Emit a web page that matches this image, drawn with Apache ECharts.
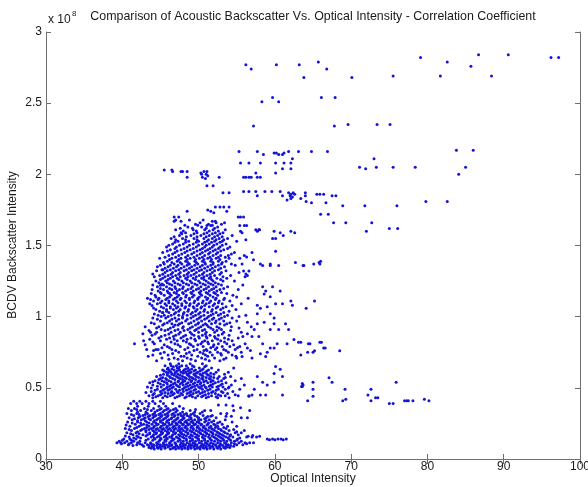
<!DOCTYPE html>
<html>
<head>
<meta charset="utf-8">
<script src="https://cdn.jsdelivr.net/npm/echarts@6/dist/echarts.min.js"></script>
<style>
  html, body { margin: 0; padding: 0; background: #fff; }
  #chart { width: 588px; height: 487px; }
</style>
</head>
<body>
<div id="chart"></div>
<script>
// Optical intensity (x) vs. BCDV backscatter intensity (y, in units of 1e8)

// isolated readings in the upper / right part of the plot: [optical, backscatter]
const upperScatter = [
  [56.2,2.77],[56.9,2.74],[60.2,2.77],[63.2,2.77],[65.7,2.79],[66.8,2.74],[63.8,2.68],
  [58.3,2.51],[59.7,2.54],[60.5,2.51],[66.1,2.54],[67.9,2.54],[57.2,2.34],[67.8,2.34],[69.6,2.35],
  [79.1,2.82],[82.6,2.79],[85.7,2.76],[86.7,2.84],[90.6,2.84],[96.2,2.82],[97.2,2.82],
  [70.1,2.68],[75.5,2.69],[81.7,2.69],[88.4,2.69],[73.4,2.35],[75.1,2.35],
  [83.8,2.17],[86.0,2.17],[73.0,2.11],[71.1,2.05],[71.9,2.04],[73.3,2.05],[75.5,2.05],[78.4,2.05],
  [85.0,2.05],[84.1,2.00],[79.8,1.81],[82.6,1.81],[71.8,1.78],[76.0,1.78],[72.7,1.66],[72.0,1.60],
  [75.0,1.62],[76.1,1.62],
  [55.3,2.16],[57.7,2.16],[58.5,2.14],[59.9,2.15],[60.2,2.15],[60.5,2.14],[61.0,2.14],[61.2,2.15],
  [61.8,2.16],[63.1,2.16],[64.8,2.16],[66.9,2.16],[62.3,2.11],[55.5,2.08],[56.6,2.08],[58.1,2.08],
  [60.1,2.08],[61.2,2.08],[62.1,2.08],[61.0,2.04],[62.1,2.04],[60.1,2.01],
  [45.5,2.03],[46.5,2.03],[46.6,2.02],[47.7,2.02],[47.9,2.02],[48.5,2.02],[48.5,1.98],
  [50.3,2.01],[50.7,2.02],[51.0,2.00],[50.5,1.98],[51.2,1.99],[50.9,1.97],[50.4,2.00],[51.1,2.02],
  [52.7,1.98],[51.1,1.92],[51.9,1.92],[55.9,1.98],[56.2,1.98],[56.6,1.98],[56.9,1.98],[57.7,1.98],
  [58.1,1.98],[57.5,2.01],
  [53.2,1.87],[54.0,1.87],[55.9,1.88],[56.6,1.88],[57.5,1.88],[57.7,1.85],[58.7,1.88],[59.6,1.88],
  [60.7,1.88],[61.0,1.85],[61.8,1.87],[62.1,1.86],[62.4,1.87],[62.6,1.86],[62.0,1.85],[62.3,1.84],
  [61.6,1.82],[62.1,1.83],[63.4,1.83],[64.0,1.85],[64.1,1.81],[64.8,1.80],[64.0,1.87],[65.5,1.86],
  [65.9,1.86],[66.4,1.86],[67.5,1.85],[68.0,1.85],[66.7,1.80],[68.9,1.78],[66.0,1.72],[67.0,1.72],
  [67.7,1.66],[69.3,1.66],
  [48.5,1.74],[46.8,1.70],[47.4,1.70],[46.8,1.67],[47.7,1.67],[47.0,1.68],[47.7,1.59],
  [51.2,1.75],[51.6,1.74],[52.2,1.77],[52.8,1.77],[53.3,1.77],[54.0,1.77],[53.7,1.74],[52.0,1.73],
  [55.2,1.70],[55.9,1.70],[51.8,1.67],[52.2,1.67],[51.1,1.64],[51.6,1.64],[53.4,1.66],[55.4,1.64],
  [56.3,1.64],[57.7,1.60],[58.0,1.61],[59.9,1.60],[60.7,1.59],[62.1,1.60],[62.6,1.59]
];

// readings to the right of the main column, 0.7e8 .. 1.6e8
const sideScatter = [
  [55.5,1.70],[56.0,1.64],[55.5,1.60],[55.7,1.59],[56.2,1.54],[57.5,1.61],[57.9,1.61],[61.1,1.57],
  [59.7,1.55],[60.1,1.55],[60.1,1.46],[56.0,1.43],[56.3,1.42],[55.7,1.37],[57.0,1.45],[57.2,1.40],
  [58.4,1.36],[59.4,1.36],[60.5,1.36],[62.7,1.38],[63.8,1.36],[65.1,1.37],[65.8,1.38],[65.9,1.37],
  [58.1,1.37],[59.4,1.37],[63.7,1.36],[66.0,1.39],
  [55.9,1.32],[56.2,1.30],[56.6,1.32],[56.1,1.28],[56.4,1.29],
  [58.4,1.21],[59.7,1.21],[60.7,1.18],[58.6,1.16],[58.8,1.18],[59.4,1.14],[62.1,1.11],[65.2,1.11],
  [64.1,1.06],[62.3,1.08],[61.0,1.09],[60.1,1.09],[57.7,1.08],[58.1,1.06],[59.0,1.07],[59.4,1.02],
  [59.9,0.99],[59.9,0.95],[58.6,0.96],[57.7,1.02],[57.7,0.95],[56.4,0.96],[57.3,0.91],[59.4,0.91],
  [60.5,0.91],[61.4,0.95],[61.8,0.91],[62.5,0.84],[63.1,0.82],[64.4,0.81],[66.4,0.78],[61.6,0.81],
  [60.3,0.81],[58.4,0.81],[59.4,0.78],[57.9,0.86],[57.0,0.86],[56.4,0.88],
  [63.4,0.82],[64.6,0.81],[65.9,0.82],[66.1,0.82],[66.6,0.78],[68.5,0.76],[63.4,0.73],[64.3,0.75],
  [65.0,0.75],[65.2,0.76],[59.9,0.78],[58.1,0.74],[59.0,0.75],[56.4,0.78],[55.7,0.72],[57.0,0.71],
  [58.8,0.72],[44.0,1.30],[45.3,1.33],[42.7,0.88],[43.7,0.89],[44.4,0.77],[45.3,1.03],[45.0,1.22]
];

// readings to the right of the lower cluster, below 0.7e8
const lowScatter = [
  [67.1,0.57],[67.5,0.54],[65.0,0.54],[63.7,0.52],[63.5,0.51],[65.0,0.49],[65.0,0.44],[64.3,0.41],
  [69.2,0.49],[68.9,0.41],[69.3,0.42],[72.6,0.49],[72.2,0.45],[72.6,0.41],[73.2,0.43],[73.5,0.43],
  [75.9,0.54],[75.0,0.39],[75.5,0.39],[77.0,0.41],[77.3,0.41],[77.5,0.41],[78.1,0.41],[79.6,0.42],
  [80.2,0.41],[59.9,0.54],[61.0,0.58],[63.6,0.53],[63.6,0.51],[59.0,0.52],[58.4,0.54],[57.7,0.58],
  [59.9,0.60],[60.7,0.63],[60.1,0.65],[61.0,0.45],[58.8,0.45],[58.1,0.45],[57.0,0.45],[56.6,0.44],
  [56.5,0.16],[57.1,0.165],[58.0,0.16],[59.0,0.14],[59.3,0.135],[59.7,0.14],[60.0,0.135],[60.4,0.14],
  [60.8,0.14],[61.1,0.135],[61.5,0.14],
  [52.6,0.38],[53.6,0.38],[54.5,0.375],[55.5,0.36],[51.6,0.30],[53.6,0.30],[54.3,0.30],[56.7,0.34]
];

// main column, grouped by backscatter level: [backscatter, [optical readings...]]
const columnRows = [
  [0.69,[44.5,47.9,49.6,51.4,52.8]],
  [0.71,[45.2,46.8,48.5,50.4,52.1,53.6,55.0]],
  [0.73,[44.0,46.0,49.1,50.9,51.8,53.0,54.4]],
  [0.75,[45.5,47.4,48.8,50.2,51.5,52.5,53.9,55.6]],
  [0.77,[43.2,44.7,46.5,48.2,49.8,51.0,52.2,53.3,54.8]],
  [0.79,[45.9,47.6,49.3,50.6,51.9,53.1,54.1,55.4]],
  [0.81,[41.6,44.2,46.9,48.8,50.3,51.3,52.6,53.7,56.1]],
  [0.83,[42.8,45.0,47.2,48.0,49.6,50.8,51.8,52.9,54.4]],
  [0.85,[44.8,46.2,47.7,49.0,50.1,51.1,52.2,53.4,55.2]],
  [0.87,[43.9,45.6,47.0,48.3,49.4,50.5,51.5,52.6,54.0]],
  [0.89,[44.5,46.4,47.6,48.9,50.0,51.0,52.1,53.3,55.6]],
  [0.91,[45.1,46.0,47.3,48.6,49.7,50.8,51.9,53.0]],
  [0.93,[43.0,44.8,46.7,48.0,49.2,50.3,51.3,52.4,54.3,56.9]],
  [0.95,[44.2,45.5,46.5,47.5,48.7,49.9,50.9,51.7,52.8,53.7]],
  [0.97,[45.0,46.2,47.1,48.3,49.4,50.4,51.4,52.3,53.3,55.0]],
  [0.99,[44.0,45.7,46.9,47.9,49.0,50.1,51.1,52.0,53.0,54.4]],
  [1.01,[44.7,45.5,46.4,47.4,48.5,49.6,50.7,51.6,52.6,53.8,56.2]],
  [1.03,[45.3,46.1,47.0,48.1,49.2,50.2,51.2,52.3,53.3]],
  [1.05,[44.4,45.8,46.7,47.6,48.7,49.8,50.8,51.8,52.9,54.9]],
  [1.07,[45.1,46.3,47.3,48.3,49.3,50.4,51.4,52.5,53.6]],
  [1.09,[43.6,44.6,45.6,46.6,47.8,48.9,50.0,51.0,52.1,53.1,55.6]],
  [1.11,[44.1,45.2,46.1,47.1,48.2,49.5,50.6,51.6,52.7,54.1]],
  [1.13,[43.3,44.8,45.9,46.9,47.7,48.8,49.9,51.2,52.3,53.4,56.5]],
  [1.15,[44.3,45.5,46.4,47.4,48.4,49.4,50.4,51.5,52.5,54.5]],
  [1.17,[45.0,46.0,46.8,47.9,49.0,50.1,51.0,52.0,53.0]],
  [1.19,[43.9,45.4,46.5,47.5,48.6,49.7,50.7,51.7,52.8,55.2]],
  [1.21,[44.6,45.8,46.9,48.0,49.2,50.3,51.3,52.3,53.8]],
  [1.23,[45.2,46.2,47.3,48.4,49.5,50.6,51.6,52.6]],
  [1.25,[44.4,45.7,46.7,47.8,48.9,50.0,51.0,51.9,53.2,54.7]],
  [1.27,[45.3,46.3,47.2,48.3,49.3,50.4,51.4,52.4,53.7]],
  [1.29,[44.9,46.0,47.0,48.1,49.0,50.1,51.1,52.1,54.2]],
  [1.31,[45.6,46.6,47.6,48.7,49.7,50.7,51.8,53.0,55.3]],
  [1.33,[45.2,46.3,47.4,48.4,49.4,50.4,51.5,52.6]],
  [1.35,[44.6,46.0,47.1,48.1,49.1,50.2,51.2,52.2,53.4]],
  [1.37,[45.5,46.8,47.8,48.8,49.9,50.9,51.9,53.0,54.3]],
  [1.39,[45.9,47.2,48.3,49.5,50.5,51.6,52.6,53.6]],
  [1.41,[44.9,46.5,47.7,48.9,50.1,51.2,52.3,54.0,55.4]],
  [1.43,[46.1,47.4,48.6,49.8,50.8,51.9,52.9,53.9]],
  [1.45,[45.3,46.9,48.2,49.4,50.5,51.5,52.5,54.7]],
  [1.47,[46.3,47.7,48.9,50.2,51.2,52.2,53.3]],
  [1.49,[45.8,47.1,48.5,49.7,50.8,51.8,52.8,54.1]],
  [1.51,[46.6,48.0,49.3,50.5,51.4,52.4,53.6]],
  [1.53,[47.3,48.7,50.0,51.1,52.1,53.1,55.0]],
  [1.55,[46.4,47.9,49.4,50.7,51.8,52.7,53.8]],
  [1.57,[47.5,49.0,50.3,51.4,52.5,54.4]],
  [1.59,[48.3,49.8,51.1,52.2,53.2]],
  [1.61,[47.0,49.3,50.8,51.9,53.5]],
  [1.63,[48.6,50.4,52.5]],
  [1.65,[49.6,51.3,53.0]],
  [1.68,[48.8,50.6]],
  // further readings between the levels above
  [0.700,[46.1,47.3,49.0,50.9,53.3]],
  [0.722,[43.4,47.7,48.1,49.9,51.2,54.9]],
  [0.741,[45.0,46.6,48.4,50.6,52.9]],
  [0.763,[44.1,47.0,49.4,50.7,51.1,53.6,56.8]],
  [0.782,[45.2,46.2,48.6,51.6,52.4,55.1]],
  [0.803,[43.0,45.5,47.3,49.0,49.9,52.0,54.6]],
  [0.822,[44.0,46.4,48.4,50.5,51.2,53.4]],
  [0.842,[43.6,45.8,46.8,48.5,49.5,52.5,53.9]],
  [0.861,[45.1,46.7,48.0,50.0,51.0,52.1,55.8]],
  [0.878,[44.3,46.1,47.4,49.1,50.9,53.1]],
  [0.903,[43.5,45.6,46.9,48.1,49.5,50.5,52.4,54.2]],
  [0.921,[44.5,46.3,47.9,48.9,50.0,51.6,52.7,55.3]],
  [0.942,[45.3,46.9,47.3,49.6,50.6,51.1,53.4]],
  [0.958,[43.8,45.9,47.8,49.0,50.0,52.2,54.1]],
  [0.981,[44.6,46.5,47.4,48.5,49.8,50.8,51.8,52.7]],
  [1.002,[45.1,46.0,47.9,49.3,50.3,51.3,53.4,55.3]],
  [1.019,[44.2,46.8,48.0,49.0,50.0,51.9,52.9]],
  [1.038,[44.9,45.8,47.4,48.6,49.6,50.7,51.7,54.0]],
  [1.061,[44.1,45.4,46.3,47.1,48.2,49.4,50.3,52.3,53.2]],
  [1.079,[43.9,45.8,46.9,47.8,48.8,49.8,50.8,51.9,54.4]],
  [1.098,[45.0,46.1,47.3,48.4,49.4,50.5,51.4,52.6]],
  [1.121,[43.7,44.7,45.7,46.7,47.6,48.8,49.9,51.1,52.2,53.3]],
  [1.139,[44.4,46.2,47.2,48.3,49.2,50.1,50.9,51.9,55.0]],
  [1.162,[43.8,45.1,46.2,47.1,48.0,49.1,50.2,51.2,52.2,53.7]],
  [1.181,[44.7,45.9,47.2,48.3,49.3,50.3,51.4,52.4]],
  [1.198,[45.0,46.2,47.0,47.9,49.0,50.0,51.0,52.0,53.3]],
  [1.222,[44.0,45.4,46.5,47.6,48.7,49.8,50.9,51.9,53.0,55.8]],
  [1.239,[44.8,45.9,46.9,48.0,49.1,50.2,51.3,52.2]],
  [1.262,[45.0,46.0,47.4,48.5,49.6,50.7,51.7,52.9]],
  [1.281,[44.2,45.6,46.6,47.6,48.6,49.7,50.7,51.6,53.2]],
  [1.298,[45.3,46.4,47.4,48.5,49.4,50.5,51.5,52.8]],
  [1.322,[44.5,45.9,47.0,48.1,49.1,50.1,51.1,52.1,53.6]],
  [1.341,[45.6,46.7,47.7,48.8,49.8,50.8,51.8,52.9]],
  [1.362,[45.0,46.3,47.3,48.5,49.5,50.5,51.6,52.6,54.8]],
  [1.381,[45.4,46.5,47.6,48.6,49.7,50.8,51.9,53.1]],
  [1.402,[46.2,47.4,48.5,49.6,50.7,51.7,52.8]],
  [1.418,[45.6,47.0,48.3,49.4,50.5,51.5,52.6,53.5]],
  [1.441,[46.6,47.8,49.1,50.2,51.3,52.3,54.3]],
  [1.462,[45.9,47.2,48.5,49.8,50.9,51.9,52.9]],
  [1.479,[46.9,48.1,49.3,50.5,51.5,52.6,53.8]],
  [1.502,[46.1,47.5,48.8,50.0,51.0,52.0,53.1]],
  [1.522,[46.9,48.3,49.7,50.8,51.7,52.8]],
  [1.541,[47.0,48.3,49.8,51.3,52.3,53.3]],
  [1.562,[46.8,48.4,49.8,51.0,52.1,53.1]],
  [1.583,[47.8,49.4,50.7,51.8,52.8]],
  [1.602,[48.0,49.7,51.4,52.6]],
  [1.622,[47.6,49.2,51.0,52.1]],
  [1.642,[48.2,49.9,51.8]],
  [1.66,[50.2,52.3]]
];

// lower cluster, 0.43e8 .. 0.67e8
const lowerRows = [
  [0.43,[44.0,45.3,46.9,48.2,49.6,51.0,52.5,54.0]],
  [0.445,[43.5,44.7,45.6,46.3,47.5,48.8,49.9,50.6,51.7,52.9,53.5,55.2,56.6]],
  [0.46,[44.2,45.2,46.0,46.8,47.7,48.5,49.3,50.2,51.3,52.2,53.8]],
  [0.475,[43.8,45.0,46.5,47.2,48.0,49.0,50.0,50.8,51.9,53.0,54.5]],
  [0.49,[44.6,45.5,46.2,47.0,47.9,48.7,49.6,50.5,51.5,52.6,53.5,55.4,57.3]],
  [0.505,[43.3,45.1,45.9,46.7,47.5,48.3,49.2,50.0,50.9,51.8,52.4,53.2,54.0]],
  [0.52,[44.0,45.4,46.4,47.1,48.0,48.9,49.8,50.7,51.6,52.9,54.3,56.0]],
  [0.535,[43.6,44.7,45.8,46.9,47.8,48.6,49.5,50.3,51.2,52.2,53.6]],
  [0.55,[44.3,45.2,46.1,47.4,48.2,49.1,50.1,51.0,51.9,53.0,54.8]],
  [0.565,[45.0,45.7,46.6,47.6,48.4,49.3,50.4,51.4,52.5,53.3,55.6]],
  [0.58,[44.5,46.2,47.1,47.9,48.8,49.7,50.6,51.6,52.7,54.2]],
  [0.595,[45.4,46.5,47.3,48.5,49.4,50.2,51.1,52.0,53.4]],
  [0.61,[45.8,46.4,47.0,47.7,48.3,49.0,49.9,50.9,52.3,53.9]],
  [0.625,[45.3,46.1,46.8,47.5,48.1,48.8,49.6,50.4,51.3,52.6]],
  [0.64,[46.0,47.2,48.6,50.1,51.7,54.6]],
  [0.655,[45.6,46.4,47.1,47.8,48.4,49.2,51.0]],
  [0.67,[46.3,47.4,48.9,50.5]],
  [0.438,[44.4,45.9,47.2,48.4,49.2,50.4,51.3,52.3]],
  [0.452,[44.0,45.0,46.6,47.9,49.0,50.9,52.6,54.8]],
  [0.468,[43.1,45.6,46.4,47.3,48.8,49.7,50.5,51.7,53.2]],
  [0.483,[44.3,45.3,46.0,47.5,48.4,49.4,51.2,52.3]],
  [0.498,[43.8,45.8,46.5,48.1,49.0,50.2,51.0,53.9]],
  [0.512,[44.6,46.2,47.3,48.6,49.5,50.4,51.4,52.6]],
  [0.527,[45.0,45.9,46.7,47.6,48.4,49.3,50.2,51.9,53.1]],
  [0.543,[44.0,45.5,46.4,47.3,48.0,49.0,49.9,50.7,51.6,52.6]],
  [0.558,[44.8,45.8,46.9,47.9,48.8,49.6,50.6,51.6]],
  [0.573,[45.3,46.3,47.3,48.2,49.1,50.0,51.0,52.0,53.5]],
  [0.588,[45.0,45.9,46.8,47.6,48.6,49.5,50.4,51.3]],
  [0.603,[46.0,46.9,48.0,48.8,49.7,50.6,51.6]],
  [0.618,[45.5,46.2,47.2,48.0,48.6,49.4,50.2,51.1]],
  [0.633,[45.9,46.5,47.4,48.3,49.1,50.6]],
  [0.648,[46.7,47.5,49.4,50.8]]
];

// dense base, 0.07e8 .. 0.41e8
const baseRows = [
  [0.07,[44.2,45.1,46.3,47.0,47.8,48.6,49.5,50.2,51.1,52.0,52.9]],
  [0.08,[43.5,44.6,45.6,46.7,47.4,48.2,49.0,49.9,50.6,51.5,52.4,53.3,54.1]],
  [0.09,[42.8,43.9,44.9,45.3,46.1,47.2,47.9,48.7,49.4,50.3,51.0,51.8,52.7,53.6,54.6]],
  [0.10,[40.8,41.9,42.6,43.3,44.1,45.0,45.8,46.5,47.6,48.3,49.1,49.8,50.7,51.4,52.2,53.0,53.9,55.0,55.8]],
  [0.115,[39.3,39.8,40.3,41.2,42.0,43.0,43.7,44.5,45.4,46.2,46.9,47.7,48.5,49.3,50.1,50.9,51.6,52.5,53.4,54.3,55.3,56.1,56.7,57.2]],
  [0.125,[39.6,40.6,41.5,42.3,44.8,45.7,46.4,47.3,48.0,48.9,49.6,50.4,51.2,52.1,52.9,53.7,54.7,55.6]],
  [0.14,[40.2,41.0,41.8,43.4,44.3,45.1,45.9,46.8,47.5,48.4,49.2,50.0,50.8,51.5,52.4,53.2,54.0,55.1]],
  [0.155,[40.9,42.1,43.8,44.6,45.5,46.2,47.1,47.9,48.8,49.6,50.5,51.3,52.0,52.8,53.6,54.5,56.3,57.0,57.6]],
  [0.17,[41.4,42.7,43.3,44.1,45.0,45.8,46.6,47.4,48.1,49.0,49.8,50.6,51.4,52.3,53.1,54.2,55.2]],
  [0.185,[40.6,41.8,43.6,44.5,45.3,46.1,47.0,47.7,48.6,49.4,50.2,51.0,51.8,52.6,53.5,54.8,55.6]],
  [0.20,[41.2,42.4,43.1,44.0,44.8,45.6,46.4,47.3,48.0,48.9,49.7,50.5,51.3,52.1,53.0,54.0,56.0]],
  [0.215,[40.4,41.6,42.9,43.8,44.6,45.4,46.2,47.0,47.8,48.5,49.3,50.1,50.9,51.7,52.6,53.6]],
  [0.23,[41.0,42.2,43.5,44.2,45.1,45.9,46.8,47.5,48.3,49.1,49.9,50.7,51.6,52.5,53.8,55.0]],
  [0.245,[41.7,42.8,43.9,44.7,45.6,46.5,47.2,48.0,48.8,49.6,50.4,51.2,52.0,53.1]],
  [0.26,[40.7,42.0,43.2,44.1,45.0,45.8,46.6,47.4,48.2,49.0,49.8,50.8,51.7,52.8,54.4]],
  [0.275,[41.3,42.5,43.7,44.5,45.3,46.1,47.0,47.8,48.7,49.5,50.3,51.4,53.5]],
  [0.29,[40.9,42.1,43.0,44.0,44.9,45.7,46.5,47.3,48.1,49.0,50.0,51.0,52.3,55.6,56.4]],
  [0.305,[41.5,42.7,43.6,44.4,45.2,46.0,46.9,47.7,48.5,49.5,50.6,51.8]],
  [0.32,[40.6,41.9,43.3,44.2,45.0,45.9,46.7,47.6,48.4,49.3,50.2,52.9,53.7]],
  [0.34,[41.2,42.4,43.8,44.6,45.5,46.3,47.2,48.9,50.8,51.6,54.6]],
  [0.355,[40.8,41.6,42.9,44.1,45.1,46.0,47.0,48.0]],
  [0.37,[42.0,43.4,44.8,45.7,47.5]],
  [0.39,[41.1,41.9,42.6,43.5,44.3,45.4,46.6]],
  [0.405,[41.5,42.3,43.1,44.0,45.0]],
  [0.075,[43.8,44.7,45.6,46.6,47.4,48.2,49.0,49.8,50.7,51.5,52.5,53.5]],
  [0.085,[44.1,45.0,46.0,46.9,47.7,48.6,49.4,50.2,51.0,51.9,52.8,53.8]],
  [0.095,[41.4,43.5,44.5,45.6,46.4,47.1,48.0,48.9,49.7,50.6,51.4,52.3,53.2,54.2]],
  [0.108,[39.9,40.9,42.3,43.8,44.7,45.4,46.2,47.0,48.0,48.8,49.5,50.4,51.1,51.9,52.8,53.6,54.7,56.3]],
  [0.132,[40.0,41.2,43.1,44.0,44.9,45.6,46.6,47.6,48.4,49.2,50.0,50.8,51.7,52.6,53.3,54.2,55.0]],
  [0.148,[41.5,42.4,44.2,45.0,45.8,46.5,47.3,48.1,48.9,49.8,50.6,51.5,52.2,53.0,53.9,55.4]],
  [0.162,[40.4,41.9,43.1,44.0,44.8,45.7,46.5,47.6,48.4,49.2,50.0,50.9,51.8,52.6,53.3,54.1]],
  [0.178,[41.1,42.2,43.6,44.4,45.2,46.0,46.9,47.8,48.6,49.5,50.3,51.1,51.9,52.8,53.8]],
  [0.192,[42.0,43.1,44.2,45.1,45.9,46.7,47.6,48.3,49.1,50.0,50.8,51.6,52.4,53.3,55.0]],
  [0.207,[40.9,42.6,43.5,44.4,45.2,46.0,46.8,47.6,48.5,49.3,50.2,51.0,51.9,52.9,54.6]],
  [0.222,[41.9,43.2,44.1,45.0,45.8,46.6,47.4,48.2,49.0,49.8,50.6,51.4,52.2,53.3]],
  [0.238,[40.5,42.5,43.2,44.5,45.4,46.2,47.1,47.9,48.6,49.4,50.3,51.1,52.2]],
  [0.253,[41.3,42.4,43.5,44.4,45.3,46.1,47.0,47.7,48.5,49.3,50.1,51.3,52.5]],
  [0.268,[42.0,43.0,44.2,45.0,45.9,46.8,47.6,48.4,49.2,50.0,51.0,52.0]],
  [0.283,[41.6,42.8,43.5,44.7,45.5,46.4,47.2,48.0,49.0,50.0,50.8]],
  [0.298,[42.3,43.4,44.2,45.1,45.9,46.8,47.9,48.8,49.8,51.2]],
  [0.313,[41.2,42.2,43.0,44.0,44.8,45.6,46.5,47.3,48.1,49.0]],
  [0.33,[42.0,43.1,44.3,45.3,46.1,47.0,47.9,49.5,50.5]],
  [0.347,[41.9,43.3,44.9,45.8,46.7,49.6]]
];

const xTicks = { min: 30, max: 100, step: 10 };
const yTicks = { min: 0, max: 3, step: 0.5 };

function expandRows(rows) {
  const out = [];
  rows.forEach(([b, xs]) => xs.forEach(x => out.push([x, b])));
  return out;
}

const points = [].concat(
  upperScatter, sideScatter, lowScatter,
  expandRows(columnRows), expandRows(lowerRows), expandRows(baseRows)
);

const font = '"Liberation Sans", Arial, sans-serif';
const axisColor = '#6e6e6e';
const textColor = '#1a1a1a';

const chart = echarts.init(document.getElementById('chart'), null, { renderer: 'canvas' });

const frameAxis = (pos) => ({
  type: 'value', position: pos,
  min: pos === 'top' ? xTicks.min : yTicks.min,
  max: pos === 'top' ? xTicks.max : yTicks.max,
  interval: pos === 'top' ? xTicks.step : yTicks.step,
  axisLine: { show: true, lineStyle: { color: axisColor, width: 1 } },
  axisTick: { show: true, inside: true, length: 5, lineStyle: { color: axisColor } },
  axisLabel: { show: false },
  splitLine: { show: false }
});

chart.setOption({
  animation: false,
  backgroundColor: '#ffffff',
  grid: { left: 46, right: 8, top: 32, bottom: 28, containLabel: false, outerBoundsMode: 'none' },
  xAxis: [
    {
      type: 'value', position: 'bottom',
      min: xTicks.min, max: xTicks.max, interval: xTicks.step,
      axisLine: { show: true, lineStyle: { color: axisColor, width: 1 } },
      axisTick: { show: true, inside: true, length: 5, lineStyle: { color: axisColor } },
      axisLabel: { color: textColor, fontSize: 12, fontFamily: font, margin: 2 },
      splitLine: { show: false }
    },
    frameAxis('top')
  ],
  yAxis: [
    {
      type: 'value', position: 'left',
      min: yTicks.min, max: yTicks.max, interval: yTicks.step,
      axisLine: { show: true, lineStyle: { color: axisColor, width: 1 } },
      axisTick: { show: true, inside: true, length: 5, lineStyle: { color: axisColor } },
      axisLabel: { color: textColor, fontSize: 12, fontFamily: font, margin: 4,
        formatter: v => String(v) },
      splitLine: { show: false }
    },
    frameAxis('right')
  ],
  graphic: [
    { type: 'text', x: 313, y: 17,
      style: { text: 'Comparison of Acoustic Backscatter Vs. Optical Intensity - Correlation Coefficient',
        font: '12.4px ' + font, fill: textColor, textAlign: 'center', textVerticalAlign: 'middle' } },
    { type: 'text', x: 48, y: 20,
      style: { text: 'x 10', font: '12px ' + font, fill: textColor, textAlign: 'left', textVerticalAlign: 'middle' } },
    { type: 'text', x: 72, y: 14,
      style: { text: '8', font: '8px ' + font, fill: textColor, textAlign: 'left', textVerticalAlign: 'middle' } },
    // axis titles
    { type: 'text', x: 313, y: 479,
      style: { text: 'Optical Intensity', font: '12px ' + font, fill: textColor,
        textAlign: 'center', textVerticalAlign: 'middle' } },
    { type: 'text', x: 13, y: 245, rotation: Math.PI / 2,
      style: { text: 'BCDV Backscatter Intensity', font: '12px ' + font, fill: textColor,
        textAlign: 'center', textVerticalAlign: 'middle' } }
  ],
  series: [{
    type: 'scatter',
    xAxisIndex: 0, yAxisIndex: 0,
    data: points,
    symbol: 'circle',
    symbolSize: 3,
    itemStyle: { color: '#1414d8', opacity: 1 },
    silent: true
  }]
});
</script>
</body>
</html>
